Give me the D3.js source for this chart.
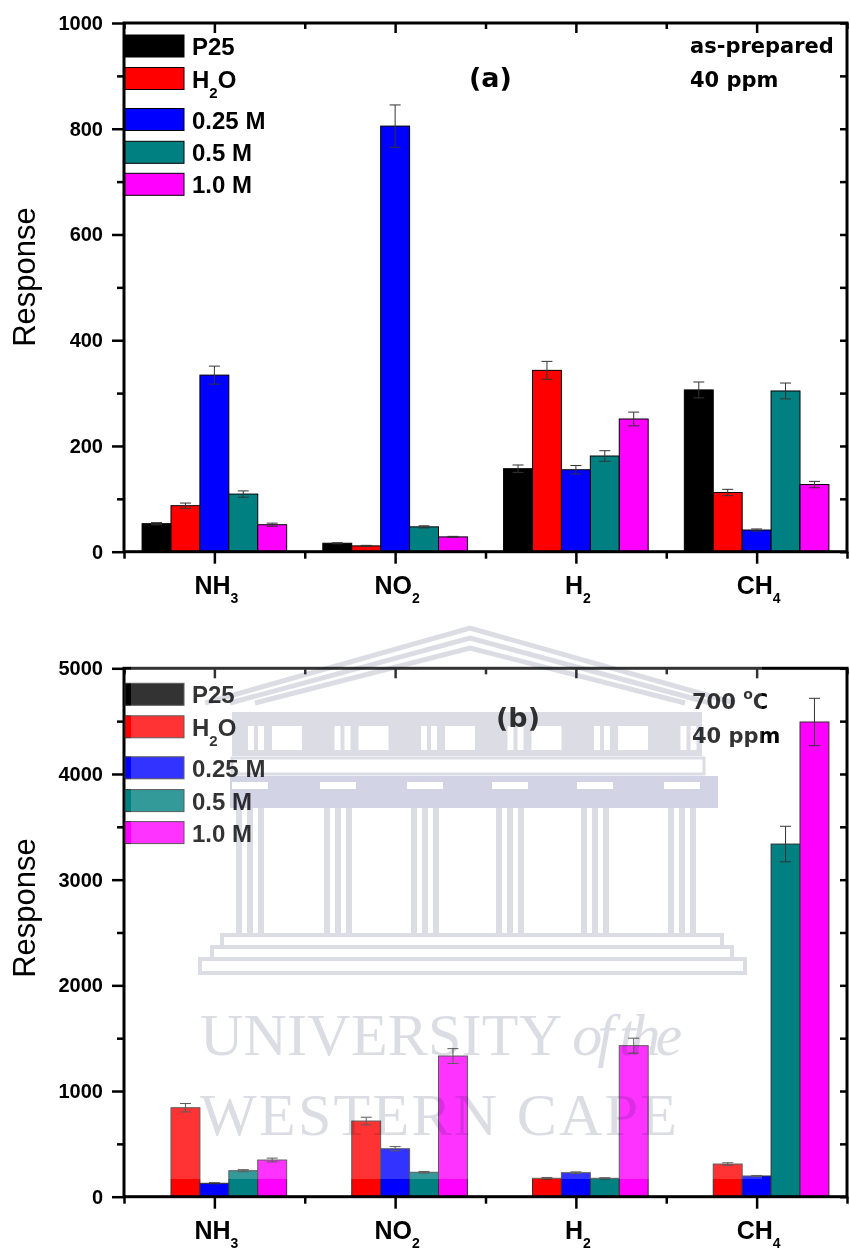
<!DOCTYPE html>
<html>
<head>
<meta charset="utf-8">
<script src="https://cdnjs.cloudflare.com/ajax/libs/d3/7.8.5/d3.min.js"></script>
<style>
  body { margin: 0; background: #fff; }
  svg { display: block; }
</style>
</head>
<body>
<div id="chart"></div>
<script>
// categories and series
const gasMain = ["NH", "NO", "H", "CH"];
const gasSub = ["3", "2", "2", "4"];
const seriesNames = ["P25", "H2O", "0.25 M", "0.5 M", "1.0 M"];
const seriesColors = ["#000000", "#ff0000", "#0000ff", "#008080", "#ff00ff"];

// panel (a): as-prepared, 40 ppm
const p25A = [53, 16, 157, 306];
const h2oA = [87, 11, 343, 112];
const m025A = [334, 805, 155, 41];
const m05A = [109, 47, 181, 304];
const m10A = [51, 28, 251, 127];
const p25AErr = [2, 1, 7, 15];
const h2oAErr = [5, 1, 17, 6];
const m025AErr = [17, 40, 8, 2];
const m05AErr = [6, 2, 10, 15];
const m10AErr = [3, 1, 13, 6];
const yTicksA = [0, 200, 400, 600, 800, 1000];

// panel (b): 700 oC, 40 ppm
const p25B = [0, 0, 0, 0];
const h2oB = [842, 716, 174, 309];
const m025B = [127, 454, 227, 196];
const m05B = [246, 231, 174, 3337];
const m10B = [347, 1331, 1429, 4492];
const p25BErr = [0, 0, 0, 0];
const h2oBErr = [40, 36, 8, 12];
const m025BErr = [5, 20, 8, 5];
const m05BErr = [10, 8, 6, 168];
const m10BErr = [18, 70, 71, 224];
const yTicksB = [0, 1000, 2000, 3000, 4000, 5000];

const W = 850, H = 1252;
const left = 124, right = 847;
const bold = "'Liberation Sans', Arial, sans-serif";
const annoFont = "'DejaVu Sans', Verdana, sans-serif";

const svg = d3.select("#chart").append("svg")
  .attr("width", W)
  .attr("height", H);

const x = d3.scaleLinear().domain([0.5, 4.5]).range([left, right]);
const step = x(2) - x(1);
const bw = step * 0.16;

function drawPanel(p) {
  const y = d3.scaleLinear().domain([0, p.yMax]).range([p.bottom, p.top]);
  const g = svg.append("g");

  // bars
  p.values.forEach(function(vals, si) {
    vals.forEach(function(v, ci) {
      if (!v) return;
      const bx = x(ci + 1) + (si - 2) * bw - bw / 2;
      g.append("rect")
        .attr("x", bx)
        .attr("y", y(v))
        .attr("width", bw)
        .attr("height", y(0) - y(v))
        .style("fill", seriesColors[si])
        .style("stroke", p.barStroke)
        .style("stroke-width", 1);
      const e = p.errors[si][ci];
      if (e > 0) {
        const cx = bx + bw / 2;
        g.append("line")
          .attr("x1", cx).attr("x2", cx)
          .attr("y1", y(v + e)).attr("y2", y(v - e))
          .style("stroke", "#333").style("stroke-width", 1);
        [v + e, v - e].forEach(function(t) {
          g.append("line")
            .attr("x1", cx - 5.5).attr("x2", cx + 5.5)
            .attr("y1", y(t)).attr("y2", y(t))
            .style("stroke", "#333").style("stroke-width", 1);
        });
      }
    });
  });

  const minorY = d3.range(p.yStep / 2, p.yMax, p.yStep);
  const catTicks = [1, 2, 3, 4];
  const midTicks = [0.5, 1.5, 2.5, 3.5, 4.5];

  // left axis
  g.append("g")
    .attr("transform", "translate(" + left + ",0)")
    .call(d3.axisLeft(y).tickValues(p.yTicks).tickSize(12).tickPadding(9).tickFormat(d3.format("d")))
    .call(function(a) { a.select(".domain").remove(); });
  g.append("g")
    .attr("transform", "translate(" + left + ",0)")
    .call(d3.axisLeft(y).tickValues(minorY).tickSize(7).tickFormat(""))
    .call(function(a) { a.select(".domain").remove(); });

  // right axis, ticks inward
  g.append("g")
    .attr("transform", "translate(" + right + ",0)")
    .call(d3.axisLeft(y).tickValues(p.yTicks.concat(minorY)).tickSize(7).tickFormat(""))
    .call(function(a) { a.select(".domain").remove(); });

  // top axis, ticks inward
  g.append("g")
    .attr("transform", "translate(0," + p.top + ")")
    .call(d3.axisBottom(x).tickValues(catTicks).tickSize(10).tickFormat(""))
    .call(function(a) { a.select(".domain").remove(); });
  g.append("g")
    .attr("transform", "translate(0," + p.top + ")")
    .call(d3.axisBottom(x).tickValues(midTicks).tickSize(6).tickFormat(""))
    .call(function(a) { a.select(".domain").remove(); });

  // bottom axis, ticks outward
  g.append("g")
    .attr("transform", "translate(0," + p.bottom + ")")
    .call(d3.axisBottom(x).tickValues(catTicks).tickSize(12).tickFormat(""))
    .call(function(a) { a.select(".domain").remove(); });
  g.append("g")
    .attr("transform", "translate(0," + p.bottom + ")")
    .call(d3.axisBottom(x).tickValues(midTicks).tickSize(7).tickFormat(""))
    .call(function(a) { a.select(".domain").remove(); });

  g.selectAll(".tick line").style("stroke", "#000").style("stroke-width", 2.5);
  g.selectAll(".tick text")
    .style("font-family", bold)
    .style("font-weight", "bold")
    .style("font-size", "20px")
    .style("fill", "#000");

  // frame
  g.append("rect")
    .attr("x", left).attr("y", p.top)
    .attr("width", right - left).attr("height", p.bottom - p.top)
    .style("fill", "none").style("stroke", "#000").style("stroke-width", 3);

  // category labels
  gasMain.forEach(function(m, i) {
    const t = g.append("text")
      .attr("x", x(i + 1) + 2)
      .attr("y", p.bottom + 42)
      .attr("text-anchor", "middle")
      .style("font-family", bold)
      .style("font-weight", "bold")
      .style("font-size", "25px");
    t.append("tspan").text(m);
    t.append("tspan").attr("dy", 9).style("font-size", "14px").text(gasSub[i]);
  });

  // y label
  g.append("text")
    .attr("transform", "translate(35," + p.labelY + ") rotate(-90)")
    .attr("text-anchor", "middle")
    .style("font-family", "'Liberation Sans', Arial, sans-serif")
    .style("font-size", "31px")
    .text("Response");

  // legend
  const offs = [0, 32.5, 73.5, 106.3, 138.3];
  seriesNames.forEach(function(name, i) {
    const ly = p.top + p.legendTop + offs[i];
    g.append("rect")
      .attr("x", left + 1).attr("y", ly)
      .attr("width", 59).attr("height", 22)
      .style("fill", seriesColors[i])
      .style("stroke", p.barStroke).style("stroke-width", 1);
    const t = g.append("text")
      .attr("x", left + 68)
      .attr("y", ly + 20)
      .style("font-family", bold)
      .style("font-weight", "bold")
      .style("font-size", "24px");
    if (name === "H2O") {
      t.append("tspan").text("H");
      t.append("tspan").attr("dy", 10).style("font-size", "15px").text("2");
      t.append("tspan").attr("dy", -10).text("O");
    } else {
      t.text(name);
    }
  });

  // panel letter and conditions
  g.append("text")
    .attr("x", p.letterX).attr("y", p.top + p.letterDy)
    .style("font-family", annoFont).style("font-weight", "bold")
    .style("font-size", "27px")
    .text(p.letter);
  const c1 = g.append("text")
    .attr("x", p.condX).attr("y", p.top + p.condDy)
    .style("font-family", annoFont).style("font-weight", "bold")
    .style("font-size", "21px");
  if (p.degree) {
    c1.append("tspan").text("700 ");
    c1.append("tspan").attr("dy", -10).style("font-size", "14px").text("o");
    c1.append("tspan").attr("dy", 10).text("C");
  } else {
    c1.text(p.cond1);
  }
  g.append("text")
    .attr("x", p.condX).attr("y", p.top + p.condDy + 34)
    .style("font-family", annoFont).style("font-weight", "bold")
    .style("font-size", "21px")
    .text("40 ppm");
}

drawPanel({
  top: 23, bottom: 551.7, yMax: 1000, yStep: 200, yTicks: yTicksA,
  values: [p25A, h2oA, m025A, m05A, m10A],
  errors: [p25AErr, h2oAErr, m025AErr, m05AErr, m10AErr],
  barStroke: "#000", labelY: 277, legendTop: 12,
  letter: "(a)", letterX: 469, letterDy: 64,
  cond1: "as-prepared", condX: 690, condDy: 30
});

drawPanel({
  top: 668.3, bottom: 1196.7, yMax: 5000, yStep: 1000, yTicks: yTicksB,
  values: [p25B, h2oB, m025B, m05B, m10B],
  errors: [p25BErr, h2oBErr, m025BErr, m05BErr, m10BErr],
  barStroke: "#333", labelY: 908, legendTop: 15,
  letter: "(b)", letterX: 496, letterDy: 59,
  degree: true, condX: 692, condDy: 41
});

// watermark of the source thesis
svg.append("rect")
  .attr("x", 131).attr("y", 622).attr("width", 631).attr("height", 557)
  .style("fill", "#fff").style("opacity", 0.2);

const wm = svg.append("g").style("mix-blend-mode", "multiply");
const wmc = "#dcdde4";
[0, 10, 20].forEach(function(o) {
  wm.append("polyline")
    .attr("points", [[205 + o * 2.5, 703], [470, 628 + o], [735 - o * 2.5, 703]].map(String).join(" "))
    .style("fill", "none").style("stroke", wmc).style("stroke-width", 5);
});
wm.append("rect").attr("x", 232).attr("y", 712).attr("width", 470).attr("height", 44).style("fill", wmc);
d3.range(0, 6).forEach(function(i) {
  const bx = 240 + i * 86.5;
  wm.append("rect").attr("x", bx + 8).attr("y", 726).attr("width", 6).attr("height", 24).style("fill", "#fff");
  wm.append("rect").attr("x", bx + 18).attr("y", 726).attr("width", 6).attr("height", 24).style("fill", "#fff");
  wm.append("rect").attr("x", bx + 32).attr("y", 726).attr("width", 30).attr("height", 24).style("fill", "#fff");
});
wm.append("rect").attr("x", 232).attr("y", 758).attr("width", 472).attr("height", 16)
  .style("fill", "none").style("stroke", wmc).style("stroke-width", 3);
wm.append("rect").attr("x", 230).attr("y", 776).attr("width", 488).attr("height", 32).style("fill", "#d2d3e4");
[250, 338, 425, 510, 595, 682].forEach(function(cx) {
  wm.append("rect").attr("x", cx - 18).attr("y", 782).attr("width", 36).attr("height", 7).style("fill", "#fff");
  wm.append("rect").attr("x", cx - 14).attr("y", 808).attr("width", 6).attr("height", 127).style("fill", wmc);
  wm.append("rect").attr("x", cx - 3).attr("y", 808).attr("width", 6).attr("height", 127).style("fill", wmc);
  wm.append("rect").attr("x", cx + 8).attr("y", 808).attr("width", 6).attr("height", 127).style("fill", wmc);
});
[[222, 935, 500, 12], [212, 947, 520, 12], [200, 959, 545, 14]].forEach(function(s) {
  wm.append("rect").attr("x", s[0]).attr("y", s[1]).attr("width", s[2]).attr("height", s[3])
    .style("fill", "none").style("stroke", wmc).style("stroke-width", 4);
});
const wt1 = wm.append("text")
  .attr("x", 200).attr("y", 1055)
  .style("font-family", "'Liberation Serif', 'Times New Roman', serif")
  .style("font-size", "60px").style("fill", wmc);
wt1.append("tspan").attr("textLength", 362).text("UNIVERSITY");
wt1.append("tspan").attr("dx", 10).attr("textLength", 110).style("font-style", "italic").text("of the");
wm.append("text")
  .attr("x", 200).attr("y", 1135)
  .attr("textLength", 477)
  .style("font-family", "'Liberation Serif', 'Times New Roman', serif")
  .style("font-size", "60px").style("fill", wmc)
  .text("WESTERN CAPE");
</script>
</body>
</html>
